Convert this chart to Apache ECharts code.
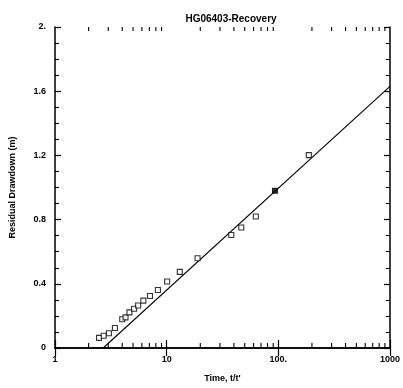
<!DOCTYPE html>
<html>
<head>
<meta charset="utf-8">
<script src="https://cdn.jsdelivr.net/npm/echarts@6/dist/echarts.min.js"></script>
<style>
html,body{margin:0;padding:0;background:#fff;}
#chart{width:403px;height:388px;}
</style>
</head>
<body>
<div id="chart"></div>
<script>
// Recovery test observations: time ratio t/t' vs residual drawdown (m)
const timeRatio = [2.48, 2.73, 3.04, 3.44, 4.0, 4.28, 4.64, 5.11, 5.55, 6.18, 7.09, 8.35, 10.1, 13.1, 18.9, 37.9, 46.6, 62.9, 93.4, 187.5];
const drawdown  = [0.063, 0.076, 0.092, 0.125, 0.179, 0.191, 0.222, 0.245, 0.265, 0.295, 0.324, 0.361, 0.414, 0.474, 0.559, 0.704, 0.751, 0.819, 0.980, 1.202];
const filledIndex = 18;

// Straight-line (semi-log) fit endpoints
const fitTime = [2.7, 1000];
const fitDrawdown = [0.0, 1.63];

// Minor log ticks between decades
const minorTicks = [2,3,4,5,6,7,8,9,20,30,40,50,60,70,80,90,200,300,400,500,600,700,800,900];

const xLabels = {1: '1', 10: '10', 100: '100.', 1000: '1000'};
const yLabels = {0: '0', 0.4: '0.4', 0.8: '0.8', 1.2: '1.2', 1.6: '1.6', 2: '2.'};

const font = 'Liberation Sans, Arial, sans-serif';

const chart = echarts.init(document.getElementById('chart'), null, {renderer: 'canvas'});

const points = timeRatio.map((t, i) => {
  const item = {value: [t, drawdown[i]]};
  if (i === filledIndex) item.itemStyle = {color: '#000'};
  return item;
});

const tickLine = {color: '#000', width: 1.2};

chart.setOption({
  animation: false,
  backgroundColor: '#fff',
  title: {
    text: 'HG06403-Recovery',
    left: 226, top: 9, textAlign: 'center',
    textStyle: {fontFamily: font, fontSize: 10, fontWeight: 'bold', color: '#000'}
  },
  grid: {left: 55, right: 10, top: 27, bottom: 38.5},
  xAxis: [{
    type: 'log', min: 1, max: 1000, logBase: 10,
    name: "Time, t/t'", nameLocation: 'middle', nameGap: 26,
    nameTextStyle: {fontFamily: font, fontSize: 9, fontWeight: 'bold', color: '#000'},
    axisLine: {show: true, lineStyle: {color: '#000', width: 1.5}},
    axisTick: {show: true, inside: true, length: 8, lineStyle: tickLine},
    axisLabel: {fontFamily: font, fontSize: 9, fontWeight: 'bold', color: '#000', margin: 7,
      formatter: v => xLabels[Math.round(v)] || ''},
    splitLine: {show: false}
  }, {
    type: 'log', min: 1, max: 1000, logBase: 10, position: 'top',
    axisLine: {show: true, lineStyle: {color: '#000', width: 1.5}},
    axisTick: {show: true, inside: true, length: 8, lineStyle: tickLine},
    axisLabel: {show: false},
    splitLine: {show: false}
  }],
  yAxis: [{
    type: 'value', min: 0, max: 2, interval: 0.4,
    name: 'Residual Drawdown (m)', nameLocation: 'middle', nameGap: 38, nameRotate: 90,
    nameTextStyle: {fontFamily: font, fontSize: 9, fontWeight: 'bold', color: '#000'},
    axisLine: {show: true, lineStyle: {color: '#000', width: 1.5}},
    axisTick: {show: true, inside: true, length: 6, lineStyle: tickLine},
    minorTick: {show: true, splitNumber: 4, length: 4, lineStyle: {color: '#000', width: 1.1}},
    axisLabel: {fontFamily: font, fontSize: 9, fontWeight: 'bold', color: '#000', margin: 9,
      formatter: v => yLabels[Math.round(v * 10) / 10] || ''},
    splitLine: {show: false}
  }, {
    type: 'value', min: 0, max: 2, interval: 0.4, position: 'right',
    axisLine: {show: true, lineStyle: {color: '#000', width: 1.5}},
    axisTick: {show: true, inside: true, length: 6, lineStyle: tickLine},
    minorTick: {show: true, splitNumber: 4, length: 4, lineStyle: {color: '#000', width: 1.1}},
    axisLabel: {show: false},
    splitLine: {show: false}
  }],
  series: [{
    // minor log ticks on bottom and top edges
    type: 'custom',
    silent: true,
    clip: false,
    z: 10,
    data: minorTicks.map(t => [t, 1]),
    encode: {x: 0, y: 1},
    renderItem: (params, api) => {
      const t = api.value(0);
      const bottom = api.coord([t, 0]);
      const top = api.coord([t, 2]);
      const style = {stroke: '#000', lineWidth: 1.1, fill: null};
      return {type: 'group', children: [
        {type: 'line', shape: {x1: bottom[0], y1: bottom[1], x2: bottom[0], y2: bottom[1] - 5}, style},
        {type: 'line', shape: {x1: top[0], y1: top[1], x2: top[0], y2: top[1] + 4}, style}
      ]};
    }
  }, {
    type: 'line',
    data: fitTime.map((t, i) => [t, fitDrawdown[i]]),
    symbol: 'none',
    lineStyle: {color: '#000', width: 1.1},
    z: 3
  }, {
    type: 'scatter',
    data: points,
    symbol: 'rect',
    symbolSize: 5,
    itemStyle: {color: '#fff', borderColor: '#000', borderWidth: 1.1},
    z: 4
  }]
});
</script>
</body>
</html>
